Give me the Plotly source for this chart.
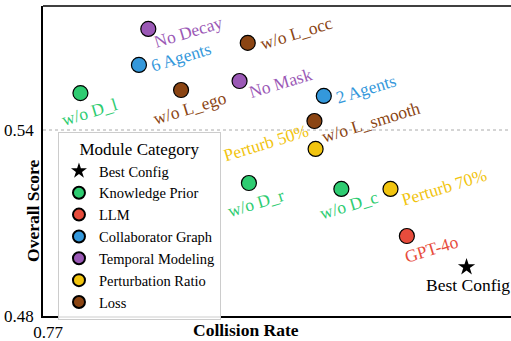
import plotly.graph_objects as go

# ---- data ----
labels = ["Best Config", "w/o D_l", "w/o D_r", "w/o D_c", "GPT-4o",
          "6 Agents", "2 Agents", "No Decay", "No Mask",
          "Perturb 50%", "Perturb 70%", "w/o L_ego", "w/o L_occ", "w/o L_smooth"]
categories = ["Best Config", "Knowledge Prior", "Knowledge Prior", "Knowledge Prior", "LLM",
              "Collaborator Graph", "Collaborator Graph", "Temporal Modeling", "Temporal Modeling",
              "Perturbation Ratio", "Perturbation Ratio", "Loss", "Loss", "Loss"]
collision_rate = [0.8062, 0.7732, 0.7876, 0.7955, 0.8011,
                  0.7782, 0.7940, 0.7790, 0.7868,
                  0.7933, 0.7997, 0.7818, 0.7875, 0.7932]
overall_score = [0.4958, 0.5519, 0.5229, 0.5210, 0.5058,
                 0.5610, 0.5510, 0.5726, 0.5558,
                 0.5339, 0.5210, 0.5529, 0.5681, 0.5429]
category_order = ["Best Config", "Knowledge Prior", "LLM", "Collaborator Graph",
                  "Temporal Modeling", "Perturbation Ratio", "Loss"]
category_colors = {"Best Config": "#000000", "Knowledge Prior": "#2ecc71", "LLM": "#e74c3c",
                   "Collaborator Graph": "#3498db", "Temporal Modeling": "#9b59b6",
                   "Perturbation Ratio": "#f1c40f", "Loss": "#8b4513"}
x_ticks = [0.77]
y_ticks = [0.48, 0.54]

# label offsets (pixels, dx right, dy down) and rotation
label_offsets = {"Best Config": (1, 18, 0), "w/o D_l": (9, 19, -17), "w/o D_r": (7, 20, -17),
                 "w/o D_c": (8, 16, -17), "GPT-4o": (25, 13, -17), "6 Agents": (42, -8, -17),
                 "2 Agents": (42, -7, -17), "No Decay": (40, 3, -17), "No Mask": (41, 2, -17),
                 "Perturb 50%": (-50, -6, -17), "Perturb 70%": (54, -2, -17),
                 "w/o L_ego": (9, 18, -17), "w/o L_occ": (49, -10, -17), "w/o L_smooth": (57, 1, -17)}

FONT = "Liberation Serif, Times New Roman, serif"

fig = go.Figure()
for ci, cat in enumerate(category_order):
    idx = [i for i, c in enumerate(categories) if c == cat]
    is_star = cat == "Best Config"
    fig.add_trace(go.Scatter(
        x=[collision_rate[i] for i in idx], y=[overall_score[i] for i in idx],
        mode="markers", name=cat, legendgroup=cat,
        marker=dict(symbol="star" if is_star else "circle",
                    size=13 if is_star else 15,
                    color=category_colors[cat],
                    line=dict(color="black", width=0 if is_star else 1.2)),
    ))

for i, lab in enumerate(labels):
    dx, dy, ang = label_offsets[lab]
    fig.add_annotation(x=collision_rate[i], y=overall_score[i], text=lab, showarrow=False,
                       xshift=dx, yshift=-dy, textangle=ang,
                       font=dict(family=FONT, size=17.5, color=category_colors[categories[i]]))

fig.add_shape(type="line", xref="paper", x0=0, x1=1, yref="y", y0=0.54, y1=0.54,
              line=dict(color="#aaaaaa", width=1, dash="dot"), layer="below")
fig.add_shape(type="line", xref="paper", x0=0, x1=1, yref="paper", y0=1, y1=1,
              line=dict(color="black", width=1.5))

fig.add_annotation(text="<b>Overall Score</b>", xref="paper", yref="paper", x=-0.0214, y=0.339,
                   xanchor="center", yanchor="middle",
                   showarrow=False, textangle=-90, font=dict(family=FONT, size=17.5, color="black"))
fig.add_annotation(text="<b>Collision Rate</b>", xref="paper", yref="paper", x=0.433, y=-0.045,
                   xanchor="center", yanchor="middle",
                   showarrow=False, font=dict(family=FONT, size=17.5, color="black"))

fig.update_xaxes(range=[0.77, 0.81], tickvals=x_ticks, ticktext=["0.77"], showgrid=False,
                 zeroline=False, showline=True, linecolor="black", linewidth=1.5,
                 tickfont=dict(family=FONT, size=17, color="black"), ticks="", ticklabelstandoff=0,
                 ticklabelshift=5)
fig.update_yaxes(range=[0.48, 0.58], tickvals=y_ticks, ticktext=["0.48", "0.54"], showgrid=False,
                 zeroline=False, showline=True, linecolor="black", linewidth=1.5,
                 tickfont=dict(family=FONT, size=17, color="black"), ticks="", ticklabelstandoff=4)

fig.update_layout(
    width=511, height=341, margin=dict(l=43, r=0, t=6, b=25),
    plot_bgcolor="white", paper_bgcolor="white",
    font=dict(family=FONT, color="black"),
    legend=dict(x=0.032, y=0.594, xanchor="left", yanchor="top",
                title=dict(text="Module Category", side="top center",
                           font=dict(family=FONT, size=17, color="black")),
                font=dict(family=FONT, size=14.5, color="black"),
                bordercolor="#cccccc", borderwidth=1, bgcolor="rgba(255,255,255,0.9)",
                tracegroupgap=0, itemsizing="constant"),
)

fig.write_html("out.html", config={"displayModeBar": False},
               post_script="document.body.style.margin='0';document.body.style.overflow='hidden';")
